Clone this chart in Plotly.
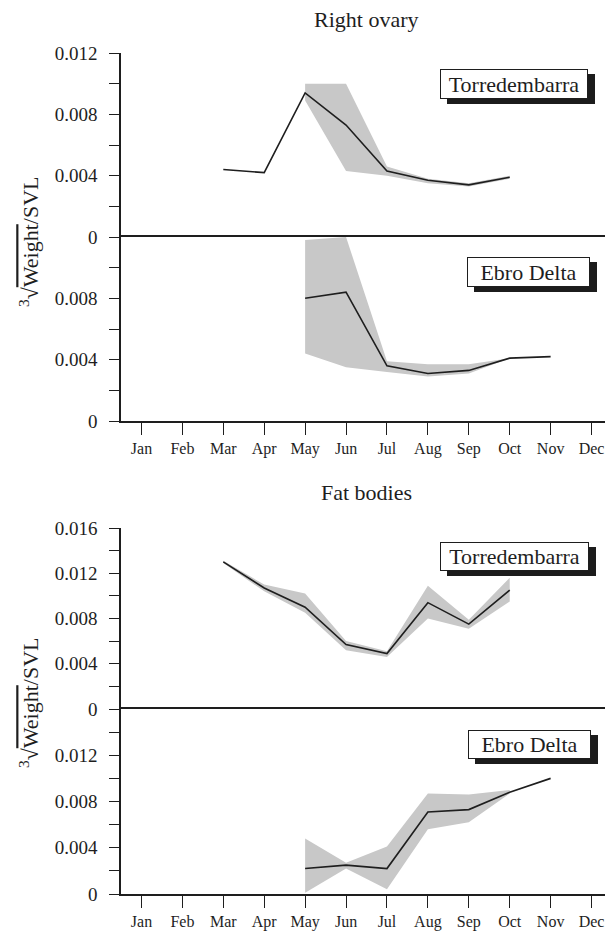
import plotly.graph_objects as go

# The page body adds an 8px margin, so the figure is sized and placed to compensate.
OFF = 8
W, H = 613 - OFF, 931 - OFF
FONT = "Liberation Serif"
INK = "#1e1e1e"
BAND = "#c8c8c8"

months = ["Jan", "Feb", "Mar", "Apr", "May", "Jun", "Jul", "Aug", "Sep", "Oct", "Nov", "Dec"]
month_num = list(range(1, 13))

# Right ovary - Torredembarra
ov_torre_mean = [None, None, 0.0044, 0.0042, 0.0094, 0.0073, 0.0043, 0.0037, 0.0034, 0.0039, None, None]
ov_torre_upper = [None, None, None, None, 0.0100, 0.0100, 0.0046, 0.0038, 0.0035, 0.0040, None, None]
ov_torre_lower = [None, None, None, None, 0.0089, 0.0043, 0.0040, 0.0035, 0.0033, 0.0038, None, None]

# Right ovary - Ebro Delta
ov_ebro_mean = [None, None, None, None, 0.0080, 0.0084, 0.0036, 0.0031, 0.0033, 0.0041, 0.0042, None]
ov_ebro_upper = [None, None, None, None, 0.0118, 0.0120, 0.0039, 0.0037, 0.0037, 0.0041, None, None]
ov_ebro_lower = [None, None, None, None, 0.0044, 0.0035, 0.0032, 0.0029, 0.0031, 0.0041, None, None]

# Fat bodies - Torredembarra
fb_torre_mean = [None, None, 0.0130, 0.0107, 0.0090, 0.0057, 0.0049, 0.0094, 0.0075, 0.0105, None, None]
fb_torre_upper = [None, None, 0.0131, 0.0110, 0.0102, 0.0060, 0.0051, 0.0109, 0.0079, 0.0116, None, None]
fb_torre_lower = [None, None, 0.0129, 0.0104, 0.0085, 0.0052, 0.0046, 0.0080, 0.0071, 0.0095, None, None]

# Fat bodies - Ebro Delta
fb_ebro_mean = [None, None, None, None, 0.0022, 0.0025, 0.0022, 0.0071, 0.0073, 0.0088, 0.0100, None]
fb_ebro_upper = [None, None, None, None, 0.0048, 0.0027, 0.0041, 0.0087, 0.0086, 0.0090, None, None]
fb_ebro_lower = [None, None, None, None, 0.0001, 0.0022, 0.0004, 0.0056, 0.0062, 0.0087, None, None]

# labelled ticks and unlabelled (minor) ticks for each panel
ovary_top_major = [0, 0.004, 0.008, 0.012]
ovary_top_text = ["0", "0.004", "0.008", "0.012"]
ovary_top_minor = [0.002, 0.006, 0.010]
ovary_bot_major = [0, 0.004, 0.008]
ovary_bot_text = ["0", "0.004", "0.008"]
ovary_bot_minor = [0.002, 0.006, 0.010, 0.012]
fat_top_major = [0, 0.004, 0.008, 0.012, 0.016]
fat_top_text = ["0", "0.004", "0.008", "0.012", "0.016"]
fat_top_minor = [0.002, 0.006, 0.010, 0.014]
fat_bot_major = [0, 0.004, 0.008, 0.012]
fat_bot_text = ["0", "0.004", "0.008", "0.012"]
fat_bot_minor = [0.002, 0.006, 0.010, 0.014, 0.016]

panels = [
    # (mean, upper, lower, xaxis, yaxis)
    (ov_torre_mean, ov_torre_upper, ov_torre_lower, "x", "y"),
    (ov_ebro_mean, ov_ebro_upper, ov_ebro_lower, "x", "y2"),
    (fb_torre_mean, fb_torre_upper, fb_torre_lower, "x2", "y3"),
    (fb_ebro_mean, fb_ebro_upper, fb_ebro_lower, "x2", "y4"),
]

fig = go.Figure()
for mean, up, lo, xa, ya in panels:
    bx = [m for m, u in zip(month_num, up) if u is not None]
    bu = [u for u in up if u is not None]
    bl = [l for l in lo if l is not None]
    fig.add_trace(go.Scatter(
        x=bx + bx[::-1], y=bu + bl[::-1], fill="toself", fillcolor=BAND,
        line=dict(width=0, color=BAND), mode="lines", xaxis=xa, yaxis=ya,
        hoverinfo="skip", showlegend=False))
    mx = [m for m, v in zip(month_num, mean) if v is not None]
    mv = [v for v in mean if v is not None]
    fig.add_trace(go.Scatter(
        x=mx, y=mv, mode="lines", line=dict(color=INK, width=1.6),
        xaxis=xa, yaxis=ya, showlegend=False))


def py(p):
    return 1 - (p - OFF) / H


def px(p):
    return (p - OFF) / W


xdom = [px(121), min(1.0, px(612))]
tickfont = dict(family=FONT, size=19, color=INK)
yax_common = dict(showgrid=False, zeroline=False, showline=True, linecolor=INK, linewidth=1.5,
                  ticks="outside", ticklen=10, tickwidth=1.3, tickcolor=INK, mirror=True,
                  tickfont=tickfont, ticklabelstandoff=8, tickmode="array", automargin=False)
xax_common = dict(range=[0.5, 12.5], domain=xdom, showgrid=False, zeroline=False, showline=True,
                  linecolor=INK, linewidth=1.5, ticks="outside", ticklen=12, tickwidth=1.3,
                  tickcolor=INK, tickmode="array", tickvals=month_num, ticktext=months,
                  tickfont=dict(family=FONT, size=16, color=INK), mirror=True, automargin=False)


def minor(vals):
    return dict(tickmode="array", tickvals=vals, ticks="outside", ticklen=10,
                tickwidth=1.3, tickcolor=INK, showgrid=False)


fig.update_layout(
    width=W, height=H, margin=dict(l=0, r=0, t=0, b=0, autoexpand=False),
    paper_bgcolor="white", plot_bgcolor="white", showlegend=False,
    xaxis=dict(anchor="y2", **xax_common),
    xaxis2=dict(anchor="y4", **xax_common),
    yaxis=dict(anchor="x", domain=[py(237), py(53)], range=[0, 0.012],
               tickvals=ovary_top_major, ticktext=ovary_top_text,
               minor=minor(ovary_top_minor), **yax_common),
    yaxis2=dict(anchor="x", domain=[py(421), py(237)], range=[0, 0.012],
                tickvals=ovary_bot_major, ticktext=ovary_bot_text,
                minor=minor(ovary_bot_minor), **yax_common),
    yaxis3=dict(anchor="x2", domain=[py(709), py(528)], range=[0, 0.016],
                tickvals=fat_top_major, ticktext=fat_top_text,
                minor=minor(fat_top_minor), **yax_common),
    yaxis4=dict(anchor="x2", domain=[py(894), py(709)], range=[0, 0.016],
                tickvals=fat_bot_major, ticktext=fat_bot_text,
                minor=minor(fat_bot_minor), **yax_common),
)

annotations = []
shapes = []
# group titles
for txt, cy in (("Right ovary", 20), ("Fat bodies", 492)):
    annotations.append(dict(text=txt, x=px(366), y=py(cy), xref="paper", yref="paper",
                            xanchor="center", yanchor="middle", showarrow=False,
                            font=dict(family=FONT, size=22, color=INK)))

ytitle = "<sup>3</sup>√<span style='text-decoration:overline'>Weight</span>/SVL"
for cy in (242, 703):
    annotations.append(dict(text=ytitle, x=px(29), y=py(cy), xref="paper", yref="paper",
                            xanchor="center", yanchor="middle",
                            showarrow=False, textangle=-90,
                            font=dict(family=FONT, size=22, color=INK)))

# boxed site labels with drop shadow: (text, left, top, right, bottom)
boxes = [
    ("Torredembarra", 440, 69, 588, 99),
    ("Ebro Delta", 467, 257, 590, 287),
    ("Torredembarra", 440, 542, 589, 571),
    ("Ebro Delta", 468, 730, 591, 759),
]
for txt, l, t, r, b in boxes:
    shapes.append(dict(type="rect", xref="paper", yref="paper",
                       x0=px(l + 7), x1=px(r + 7), y0=py(b + 5), y1=py(t + 5),
                       fillcolor="#1c1c1c", line=dict(width=0), layer="above"))
    cx, cy = (l + r) / 2, (t + b) / 2
    w, h = r - l - 4, b - t - 4
    annotations.append(dict(
        text=txt, x=px(cx), y=py(cy), xref="paper", yref="paper", showarrow=False,
        xanchor="center", yanchor="middle", width=w, height=h,
        bgcolor="white", bordercolor=INK, borderwidth=1, borderpad=1,
        font=dict(family=FONT, size=22, color=INK)))

fig.update_layout(annotations=annotations, shapes=shapes)

fig.write_html("out.html")
